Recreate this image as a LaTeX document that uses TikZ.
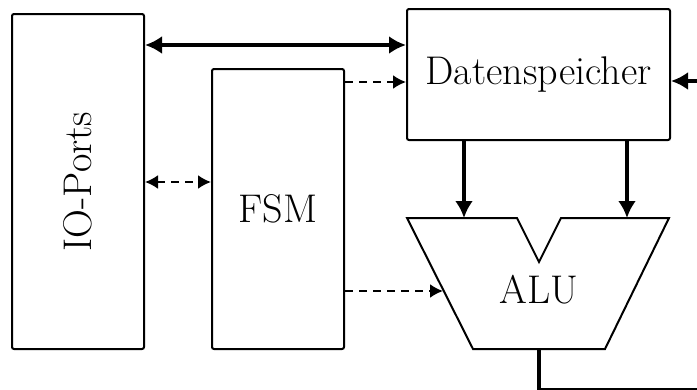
\documentclass[tikz,border=0pt]{standalone}
\usepackage{graphicx}
\usetikzlibrary{arrows.meta}
\newcommand{\bigtext}[1]{\scalebox{1.61}{\Huge #1}}
\begin{document}
\begin{tikzpicture}[x=1pt,y=-1pt,
  block/.style={draw,line width=2pt,rounded corners=2pt,inner sep=0pt},
  bus/.style={line width=4pt,-{Latex[length=17pt,width=18pt]}},
  dbus/.style={line width=4pt,{Latex[length=17pt,width=18pt]}-{Latex[length=17pt,width=18pt]}},
  ctrl/.style={line width=2pt,dash pattern=on 8pt off 6pt,-{Latex[length=13pt,width=14pt]}},
  dctrl/.style={line width=2pt,dash pattern=on 8pt off 6pt,{Latex[length=13pt,width=14pt]}-{Latex[length=13pt,width=14pt]}}]
\useasboundingbox (0,0) rectangle (697,389);

% blocks
\node[block,minimum width=132pt,minimum height=335pt] (io) at (78,181.5)
  {\rotatebox{90}{\bigtext{IO-Ports}}};
\node[block,minimum width=132pt,minimum height=280pt] (fsm) at (278,209)
  {\bigtext{FSM}};
\node[block,minimum width=263pt,minimum height=131pt] (ds) at (538.5,74.5)
  {\bigtext{Datenspeicher}};

% ALU outline with input notch
\coordinate (alutl) at (407,218);
\coordinate (alunl) at (517,218);
\coordinate (alunb) at (539,262);
\coordinate (alunr) at (561,218);
\coordinate (alutr) at (669,218);
\coordinate (alubr) at (605,349);
\coordinate (alubl) at (473,349);
\draw[line width=2pt,line join=miter] (alutl) -- (alunl) -- (alunb) -- (alunr)
  -- (alutr) -- (alubr) -- (alubl) -- cycle;
\node (alu) at (539,290) {\bigtext{ALU}};

% ports on the ALU
\coordinate (aluina) at (464,218);
\coordinate (aluinb) at (627,218);
\coordinate (aluctl) at (443,291);
\coordinate (aluout) at (539,349);

% free ends at the picture border
\coordinate (dsin) at (705,81);
\coordinate (outend) at (705,390);
\coordinate (outcorner) at (539,390);

% data paths
\draw[dbus] (io.east |- 0,45) -- (ds.west |- 0,45);
\draw[bus] (dsin) -- (ds.east |- dsin);
\draw[bus] (ds.south -| aluina) -- (aluina);
\draw[bus] (ds.south -| aluinb) -- (aluinb);
\draw[line width=4pt] (aluout) -- (outcorner) -- (outend);

% control paths
\draw[ctrl] (fsm.east |- 0,82) -- (ds.west |- 0,82);
\draw[dctrl] (io.east |- 0,182) -- (fsm.west |- 0,182);
\draw[ctrl] (fsm.east |- aluctl) -- (aluctl);
\end{tikzpicture}
\end{document}
